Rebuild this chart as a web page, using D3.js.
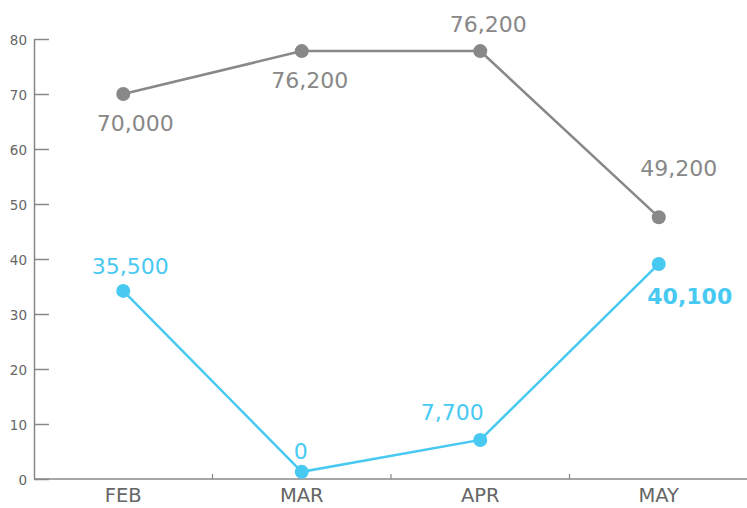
<!DOCTYPE html>
<html>
<head>
<meta charset="utf-8">
<script src="https://cdn.jsdelivr.net/npm/d3@7"></script>
<style>
  body { margin: 0; background: #fff; }
  svg { display: block; font-family: "DejaVu Sans", Verdana, sans-serif; }
</style>
</head>
<body>
<div id="chart"></div>
<script>
var months = ["FEB", "MAR", "APR", "MAY"];
var grayValues = [70, 77.8, 77.8, 47.6];
var blueValues = [34.2, 1.3, 7.1, 39.1];
var grayLabels = ["70,000", "76,200", "76,200", "49,200"];
var blueLabels = ["35,500", "0", "7,700", "40,100"];
var yTicks = [0, 10, 20, 30, 40, 50, 60, 70, 80];

var W = 747, H = 508;
var plotLeft = 34, plotRight = 748, plotTop = 39, plotBottom = 479;

var svg = d3.select("#chart")
  .append("svg")
  .attr("width", W)
  .attr("height", H);

var x = d3.scaleBand()
  .domain(months)
  .range([plotLeft, plotRight]);

var y = d3.scaleLinear()
  .domain([0, 80])
  .range([plotBottom, plotTop]);

// Y axis, ticks pointing into the plot
var yAxis = svg.append("g")
  .attr("transform", "translate(" + plotLeft + ",0)")
  .call(d3.axisRight(y).tickValues(yTicks).tickSize(15).tickSizeOuter(0).tickFormat(""));
yAxis.select(".domain").attr("stroke", "#888").attr("stroke-width", 1.5);
yAxis.selectAll(".tick line").attr("stroke", "#888").attr("stroke-width", 1.5);

svg.selectAll(".ylab")
  .data(yTicks)
  .enter()
  .append("text")
  .attr("class", "ylab")
  .attr("x", 27)
  .attr("y", function (d) { return y(d) + 6; })
  .attr("text-anchor", "end")
  .attr("font-size", "13.5px")
  .attr("fill", "#666")
  .text(function (d) { return d; });

// X axis
svg.append("line")
  .attr("x1", plotLeft).attr("x2", W)
  .attr("y1", plotBottom).attr("y2", plotBottom)
  .attr("stroke", "#888").attr("stroke-width", 1.5);

svg.selectAll(".xtick")
  .data(months.slice(1))
  .enter()
  .append("line")
  .attr("class", "xtick")
  .attr("x1", function (d) { return x(d); })
  .attr("x2", function (d) { return x(d); })
  .attr("y1", plotBottom)
  .attr("y2", plotBottom - 5)
  .attr("stroke", "#888")
  .attr("stroke-width", 1.2);

svg.selectAll(".xlab")
  .data(months)
  .enter()
  .append("text")
  .attr("class", "xlab")
  .attr("x", function (d) { return x(d) + x.bandwidth() / 2; })
  .attr("y", 502)
  .attr("text-anchor", "middle")
  .attr("font-size", "19.5px")
  .attr("fill", "#666")
  .text(function (d) { return d; });

// label offsets from each point (dx, dy to baseline)
var grayOffsets = [[12, 37], [8, 37], [8, -19], [20, -41]];
var blueOffsets = [[7, -17], [-1, -13], [-28, -20], [31, 40]];

function drawSeries(values, labels, offsets, color, boldLast) {
  var pts = values.map(function (v, i) {
    return { m: months[i], v: v, label: labels[i], off: offsets[i], i: i };
  });

  var line = d3.line()
    .x(function (d) { return x(d.m) + x.bandwidth() / 2; })
    .y(function (d) { return y(d.v); });

  svg.append("path")
    .datum(pts)
    .attr("d", line)
    .attr("fill", "none")
    .attr("stroke", color)
    .attr("stroke-width", 2.5);

  var g = svg.append("g");

  g.selectAll("circle")
    .data(pts)
    .enter()
    .append("circle")
    .attr("cx", function (d) { return x(d.m) + x.bandwidth() / 2; })
    .attr("cy", function (d) { return y(d.v); })
    .attr("r", 7)
    .attr("fill", color);

  g.selectAll("text")
    .data(pts)
    .enter()
    .append("text")
    .attr("x", function (d) { return x(d.m) + x.bandwidth() / 2 + d.off[0]; })
    .attr("y", function (d) { return y(d.v) + d.off[1]; })
    .attr("text-anchor", "middle")
    .attr("font-size", "22px")
    .attr("font-weight", function (d) { return boldLast && d.i == values.length - 1 ? "bold" : "normal"; })
    .attr("fill", color)
    .text(function (d) { return d.label; });
}

drawSeries(grayValues, grayLabels, grayOffsets, "#888888", false);
drawSeries(blueValues, blueLabels, blueOffsets, "#48c9f2", true);
</script>
</body>
</html>
